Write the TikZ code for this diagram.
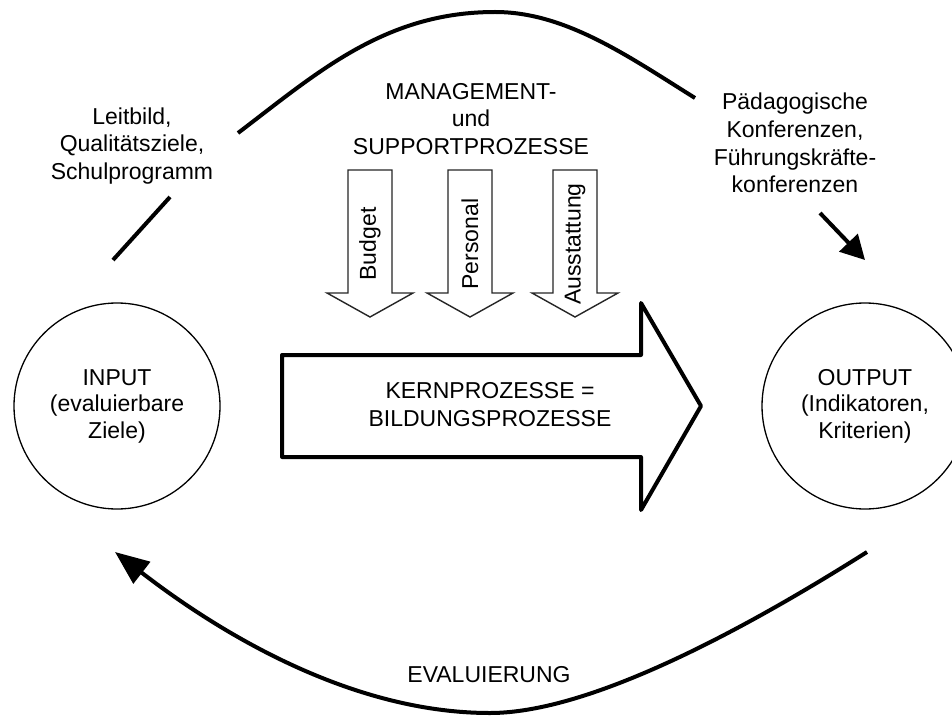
\documentclass[tikz,border=0pt]{standalone}
\usepackage{fontspec}
\setmainfont{Liberation Sans}
\usetikzlibrary{arrows.meta}

\tikzset{
  lbl/.style={font=\fontsize{23}{27.7}\selectfont, align=center, inner sep=0pt},
  ring/.style={circle, draw=black, line width=1.3pt, minimum size=206pt, inner sep=0pt,
               font=\fontsize{23}{26.5}\selectfont, align=center},
  cycleline/.style={line width=4pt, black},
  bigarrow/.style={line width=4pt, line join=round, black},
  supparrow/.style={line width=1.4pt, draw=black!85, line join=miter},
  vlbl/.style={font=\fontsize{23}{27.7}\selectfont, rotate=90, inner sep=0pt}
}

\begin{document}
\begin{tikzpicture}[x=1pt, y=-1pt]
  \clip (0,0) rectangle (952,719);
  \fill[white] (0,0) rectangle (952,719);

  % Input and output circles
  \node[ring] (input) at (117,406) {INPUT\\(evaluierbare\\Ziele)};
  \node[ring] (output) at (865,406) {OUTPUT\\(Indikatoren,\\Kriterien)};

  % Core process arrow
  \coordinate (kA) at (282,355);
  \coordinate (kB) at (641,355);
  \coordinate (kC) at (641,303);
  \coordinate (kTip) at (701,406);
  \coordinate (kD) at (641,510);
  \coordinate (kE) at (641,457);
  \coordinate (kF) at (282,457);
  \draw[bigarrow] (kA) -- (kB) -- (kC) -- (kTip) -- (kD) -- (kE) -- (kF) -- cycle;
  \node[lbl] (kern) at (490,404.5) {KERNPROZESSE =\\BILDUNGSPROZESSE};

  % Management and support processes
  \node[lbl] (mgmt) at (471,119) {MANAGEMENT-\\und\\SUPPORTPROZESSE};
  \foreach \cx/\lab/\nm in {370/Budget/budget, 470/Personal/personal, 575/Ausstattung/ausstattung} {
    \draw[supparrow] ({\cx-22},170) -- ({\cx+22},170) -- ({\cx+22},293) -- ({\cx+43},293)
      -- (\cx,317) -- ({\cx-43},293) -- ({\cx-22},293) -- cycle;
    \node[vlbl] (\nm) at (\cx,244) {\lab};
  }

  % Side labels
  \node[lbl] (leitbild) at (132,146) {Leitbild,\\Qualitätsziele,\\Schulprogramm};
  \node[lbl] (konf) at (795,143) {Pädagogische\\Konferenzen,\\Führungskräfte-\\konferenzen};
  \node[lbl, anchor=base] (eval) at (489,682) {EVALUIERUNG};

  % Cycle: upper arc, short stroke near the input, arrow into the output
  \coordinate (topA) at (238,133);
  \coordinate (topM) at (495,12);
  \coordinate (topB) at (695,98);
  \draw[cycleline] (topA) .. controls (317.6,72.5) and (385,12) .. (topM)
                          .. controls (565,12) and (627.2,55.6) .. (topB);
  \coordinate (lsA) at (113,260);
  \coordinate (lsB) at (170,197);
  \draw[cycleline] (lsA) -- (lsB);
  \coordinate (raTail) at (820,213);
  \coordinate (raTip) at (865,260);
  \draw[cycleline, -{Triangle[length=24pt, width=25pt]}] (raTail) -- (raTip);

  % Evaluation arc back to the input
  \coordinate (botA) at (867,552);
  \coordinate (botM) at (490,713);
  \coordinate (botB) at (115,552);
  \draw[cycleline, -{Triangle[length=34pt, width=27pt]}]
    (botA) .. controls (763.9,617.1) and (597,713) .. (botM)
           .. controls (351.5,713) and (220.2,633.4) .. (botB);
\end{tikzpicture}
\end{document}
